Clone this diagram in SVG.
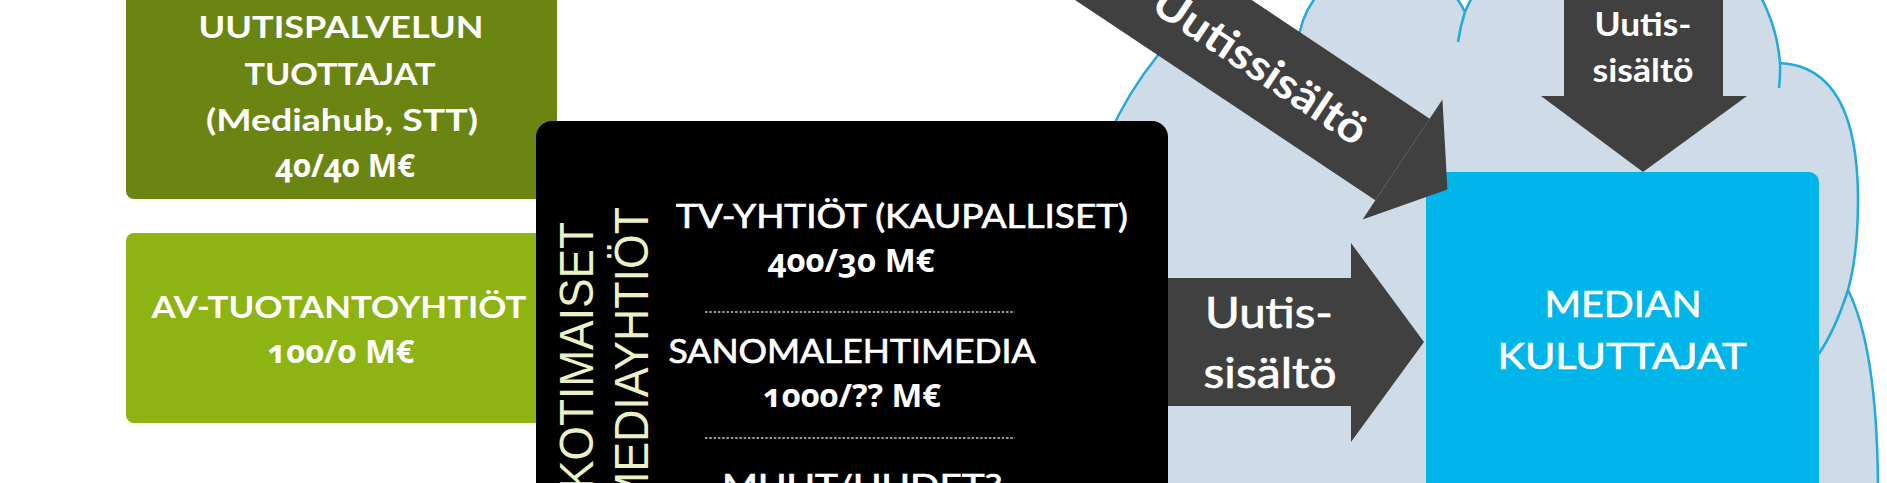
<svg xmlns="http://www.w3.org/2000/svg" width="1887" height="483" viewBox="0 0 1887 483">
  <style>
    .t { font-family: Lato, "Open Sans", "Liberation Sans", sans-serif; fill: #ffffff; text-anchor: middle; }
    .num { font-family: "Open Sans", Lato, "Liberation Sans", sans-serif; font-variant-numeric: oldstyle-nums; font-feature-settings: "onum" 1; }
    .b { font-weight: 700; }
    .n { font-weight: 400; }
    .m { font-weight: 400; stroke: #ffffff; stroke-width: 0.7; }
    .vert { font-family: "Liberation Sans", Arial, sans-serif; fill: #eaf2c4; font-size: 48px; }
    .cloudline { fill: none; stroke: #22a9dd; stroke-width: 2.5; }
    .arrow { fill: #404040; }
    .dots { stroke: #c8c8c8; stroke-width: 1.3; stroke-dasharray: 2.5 1.8; fill: none; }
  </style>

  <rect x="0" y="0" width="1887" height="483" fill="#ffffff"/>

  <g id="cloud">
    <path d="M1090,495 L1090,200 C1100,140 1130,85 1175,35 L1298,45 A88 88 0 0 1 1465,12 A164 164 0 0 1 1780,63 C1840,66 1858,125 1858,200 C1858,240 1855,265 1848,290 C1868,330 1878,400 1878,495 Z" fill="#cfdbe7"/>
    <path class="cloudline" d="M1090,200 C1100,140 1130,85 1175,35"/>
    <path class="cloudline" d="M1298,45 A88 88 0 0 1 1465,12"/>
    <path class="cloudline" d="M1465,12 A164 164 0 0 1 1780,63"/>
    <path class="cloudline" d="M1465,12 A164 164 0 0 0 1458,42"/>
    <path class="cloudline" d="M1780,63 A164 164 0 0 1 1779,88"/>
    <path class="cloudline" d="M1780,63 C1840,66 1858,125 1858,200 C1858,240 1855,265 1848,290 C1840,315 1832,335 1818,355"/>
    <path class="cloudline" d="M1848,290 C1868,330 1878,400 1878,495"/>
  </g>

  <g id="uutispalvelun-tuottajat">
    <rect x="126" y="-20" width="431" height="219" rx="8" fill="#6a8512"/>
    <text class="t b" font-size="31" x="341" y="38" textLength="285" lengthAdjust="spacingAndGlyphs">UUTISPALVELUN</text>
    <text class="t b" font-size="31" x="340" y="85" textLength="191" lengthAdjust="spacingAndGlyphs">TUOTTAJAT</text>
    <text class="t b" font-size="31" x="342" y="131" textLength="272" lengthAdjust="spacingAndGlyphs">(Mediahub, STT)</text>
    <text class="t b num" font-size="32" x="345" y="177" textLength="140" lengthAdjust="spacingAndGlyphs">40/40 M€</text>
  </g>

  <g id="av-tuotantoyhtiot">
    <rect x="126" y="233" width="431" height="190" rx="8" fill="#8db412"/>
    <text class="t b" font-size="31" x="339" y="318" textLength="375" lengthAdjust="spacingAndGlyphs">AV-TUOTANTOYHTIÖT</text>
    <text class="t b num" font-size="32" x="341" y="363" textLength="147" lengthAdjust="spacingAndGlyphs">100/0 M€</text>
  </g>

  <g id="kotimaiset-mediayhtiot">
    <rect x="536" y="121" width="632" height="400" rx="16" fill="#000000"/>
    <text class="vert" transform="translate(593,356) rotate(-90)" text-anchor="middle" textLength="268" lengthAdjust="spacingAndGlyphs">KOTIMAISET</text>
    <text class="vert" transform="translate(648,207) rotate(-90)" text-anchor="end" textLength="302" lengthAdjust="spacingAndGlyphs">MEDIAYHTIÖT</text>
    <text class="t m" font-size="33" x="902" y="228" textLength="452" lengthAdjust="spacingAndGlyphs">TV-YHTIÖT (KAUPALLISET)</text>
    <text class="t b num" font-size="32" x="851" y="272" textLength="167" lengthAdjust="spacingAndGlyphs">400/30 M€</text>
    <line class="dots" x1="705" y1="312" x2="1015" y2="312"/>
    <text class="t m" font-size="33" x="852" y="363" textLength="367" lengthAdjust="spacingAndGlyphs">SANOMALEHTIMEDIA</text>
    <text class="t b num" font-size="32" x="852" y="407" textLength="178" lengthAdjust="spacingAndGlyphs">1000/?? M€</text>
    <line class="dots" x1="705" y1="438" x2="1015" y2="438"/>
    <text class="t m" font-size="33" x="862" y="498" textLength="280" lengthAdjust="spacingAndGlyphs">MUUT/UUDET?</text>
  </g>

  <g id="median-kuluttajat">
    <rect x="1426" y="172" width="393" height="340" rx="10" fill="#00b5e9"/>
    <text class="t m" font-size="37" x="1623" y="317" textLength="157" lengthAdjust="spacingAndGlyphs">MEDIAN</text>
    <text class="t m" font-size="37" x="1622" y="369" textLength="249" lengthAdjust="spacingAndGlyphs">KULUTTAJAT</text>
  </g>

  <g id="connectors">
    <g id="arrow-diagonal" transform="translate(1402.5,159.5) rotate(33.7)">
      <rect class="arrow" x="-600" y="-49" width="600" height="98"/>
      <polygon class="arrow" points="0,-72 54,0 0,72"/>
      <text class="t b" font-size="43" x="-170" y="16" textLength="248" lengthAdjust="spacingAndGlyphs">Uutissisältö</text>
    </g>
    <g id="arrow-top">
      <rect class="arrow" x="1564" y="-10" width="159" height="106"/>
      <polygon class="arrow" points="1541,96 1747,96 1643,172"/>
      <text class="t b" font-size="32" x="1643" y="36" textLength="97" lengthAdjust="spacingAndGlyphs">Uutis-</text>
      <text class="t b" font-size="32" x="1643" y="82" textLength="101" lengthAdjust="spacingAndGlyphs">sisältö</text>
    </g>
    <g id="arrow-horizontal">
      <rect class="arrow" x="1168" y="278" width="184" height="128"/>
      <polygon class="arrow" points="1351,243 1424,342 1351,442"/>
      <text class="t m" font-size="43" x="1269" y="328" textLength="128" lengthAdjust="spacingAndGlyphs">Uutis-</text>
      <text class="t m" font-size="43" x="1270" y="388" textLength="133" lengthAdjust="spacingAndGlyphs">sisältö</text>
    </g>
  </g>
</svg>
